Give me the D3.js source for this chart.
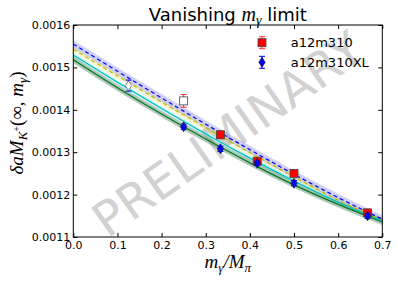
<!DOCTYPE html>
<html>
<head>
<meta charset="utf-8">
<script src="https://d3js.org/d3.v7.min.js"></script>
<style>
  body { margin: 0; background: #fff; }
  svg { display: block; }
  .axis text { font-family: "DejaVu Sans", sans-serif; font-size: 11px; fill: #000; }
  .axis line { stroke: #000; }
  .math { font-family: "Liberation Serif", serif; font-style: italic; }
</style>
</head>
<body>
<div id="chart"></div>
<script>
// fit curves, sampled at xGrid
const xGrid = [0, 0.1, 0.2, 0.3, 0.4, 0.5, 0.6, 0.7];
const fitBlue = [0.001555, 0.001491, 0.001428, 0.001366, 0.001306, 0.001248, 0.001193, 0.001142];
const fitYellow = [0.001543, 0.001480, 0.001418, 0.001358, 0.001299, 0.001242, 0.001187, 0.001140];
const fitCyan = [0.001529, 0.001465, 0.001403, 0.001343, 0.001286, 0.001232, 0.001182, 0.001138];
const fitGreen = [0.001518, 0.001452, 0.001390, 0.001331, 0.001275, 0.001223, 0.001177, 0.001136];
const bandHalf = [0.0000090, 0.0000075, 0.0000055, 0.0000075]; // blue, yellow, cyan, green

// data points
const xA = [0.25, 1 / 3, 5 / 12, 0.5, 2 / 3];
const yA = [0.001421, 0.001341, 0.001279, 0.001250, 0.001157];
const eA = [0.000015, 0.000009, 0.000006, 0.000004, 0.000004];
const openA = [true, false, false, false, false];

const xB = [0.125, 0.25, 1 / 3, 5 / 12, 0.5, 2 / 3];
const yB = [0.001457, 0.001360, 0.001308, 0.001274, 0.001227, 0.001150];
const eB = [0.000013, 0.000006, 0.000006, 0.000005, 0.000006, 0.000006];
const openB = [true, false, false, false, false, false];

const seriesNames = ["a12m310", "a12m310XL"];
const xTicks = [0, 0.1, 0.2, 0.3, 0.4, 0.5, 0.6, 0.7];
const yTicks = [0.0011, 0.0012, 0.0013, 0.0014, 0.0015, 0.0016];

const W = 398, H = 284;
const m = { left: 73.3, right: 398 - 382.3, top: 25, bottom: 284 - 237 };
const iw = W - m.left - m.right, ih = H - m.top - m.bottom;

const svg = d3.select("#chart").append("svg").attr("width", W).attr("height", H);

const x = d3.scaleLinear().domain([0, 0.7]).range([m.left, m.left + iw]);
const y = d3.scaleLinear().domain([0.0011, 0.0016]).range([m.top + ih, m.top]);

// watermark
svg.append("text")
  .attr("transform", `translate(${x(0.35)},${y(0.001343)}) rotate(-35)`)
  .attr("text-anchor", "middle")
  .attr("dominant-baseline", "central")
  .style("font-family", "DejaVu Sans, sans-serif")
  .style("font-size", "48px")
  .style("fill", "#d2d2d2")
  .text("PRELIMINARY");

const plot = svg.append("g");

const fits = [
  { v: fitBlue, c: "#0000ff", band: "#0000ff", o: 0.18, dash: "4,3", h: bandHalf[0] },
  { v: fitYellow, c: "#bfbf00", band: "#bfbf00", o: 0.16, dash: "4,3", h: bandHalf[1] },
  { v: fitCyan, c: "#00bfbf", band: "#00bfbf", o: 0.18, dash: null, h: bandHalf[2] },
  { v: fitGreen, c: "#007a20", band: "#2f6f4a", o: 0.38, dash: null, h: bandHalf[3] }
];

const area = d3.area()
  .x((d, i) => x(xGrid[i]))
  .y0(d => y(d.lo)).y1(d => y(d.hi))
  .curve(d3.curveMonotoneX);
const line = d3.line()
  .x((d, i) => x(xGrid[i])).y(d => y(d))
  .curve(d3.curveMonotoneX);

fits.forEach(f => {
  plot.append("path")
    .datum(f.v.map(v => ({ lo: v - f.h, hi: v + f.h })))
    .attr("d", area)
    .attr("fill", f.band).attr("fill-opacity", f.o);
});
fits.slice().reverse().forEach(f => {
  plot.append("path")
    .datum(f.v)
    .attr("d", line)
    .attr("fill", "none")
    .attr("stroke", f.c)
    .attr("stroke-width", f.dash ? 1.2 : 1.3)
    .attr("stroke-dasharray", f.dash);
});

function errbar(g, cx, cy, lo, hi, color) {
  g.append("line").attr("x1", cx).attr("x2", cx).attr("y1", lo).attr("y2", hi)
    .attr("stroke", color).attr("stroke-width", 1);
  [lo, hi].forEach(v => g.append("line")
    .attr("x1", cx - 3).attr("x2", cx + 3).attr("y1", v).attr("y2", v)
    .attr("stroke", color).attr("stroke-width", 1));
}
function square(g, cx, cy, fill) {
  g.append("rect").attr("x", cx - 4).attr("y", cy - 4).attr("width", 8).attr("height", 8)
    .attr("fill", fill).attr("stroke", "#444").attr("stroke-width", 0.8);
}
function diamond(g, cx, cy, fill) {
  g.append("path")
    .attr("d", `M${cx},${cy - 5}L${cx + 3.2},${cy}L${cx},${cy + 5}L${cx - 3.2},${cy}Z`)
    .attr("fill", fill).attr("stroke", fill === "#fff" ? "#555" : "#222").attr("stroke-width", 0.7);
}

const pts = svg.append("g");
xA.forEach((v, i) => {
  errbar(pts, x(v), y(yA[i]), y(yA[i] - eA[i]), y(yA[i] + eA[i]), "#ff3030");
  square(pts, x(v), y(yA[i]), openA[i] ? "#fff" : "#ff0000");
});
xB.forEach((v, i) => {
  errbar(pts, x(v), y(yB[i]), y(yB[i] - eB[i]), y(yB[i] + eB[i]), "#0000ff");
  diamond(pts, x(v), y(yB[i]), openB[i] ? "#fff" : "#0000ff");
});

// axes: ticks inward on all sides
const ax = svg.append("g").attr("class", "axis");
ax.append("g").attr("transform", `translate(0,${m.top + ih})`)
  .call(d3.axisBottom(x).tickValues(xTicks).tickFormat(d3.format(".1f")).tickSizeInner(-4).tickSizeOuter(0).tickPadding(4))
  .call(g => g.select(".domain").remove());
ax.append("g").attr("transform", `translate(0,${m.top})`)
  .call(d3.axisTop(x).tickValues(xTicks).tickFormat("").tickSizeInner(-4).tickSizeOuter(0))
  .call(g => g.select(".domain").remove());
ax.append("g").attr("transform", `translate(${m.left},0)`)
  .call(d3.axisLeft(y).tickValues(yTicks).tickFormat(d3.format(".4f")).tickSizeInner(-4).tickSizeOuter(0).tickPadding(3))
  .call(g => g.select(".domain").remove());
ax.append("g").attr("transform", `translate(${m.left + iw},0)`)
  .call(d3.axisRight(y).tickValues(yTicks).tickFormat("").tickSizeInner(-4).tickSizeOuter(0))
  .call(g => g.select(".domain").remove());
svg.append("rect").attr("x", m.left).attr("y", m.top).attr("width", iw).attr("height", ih)
  .attr("fill", "none").attr("stroke", "#000").attr("stroke-width", 1);

// legend
const lg = svg.append("g");
[[seriesNames[0], "sq"], [seriesNames[1], "di"]].forEach((d, i) => {
  const ly = 42.7 + i * 19.6;
  errbar(lg, 262, ly, ly - 6, ly + 6, d[1] === "sq" ? "#ff3030" : "#0000ff");
  if (d[1] === "sq") square(lg, 262, ly, "#ff0000"); else diamond(lg, 262, ly, "#0000ff");
  lg.append("text").attr("x", 290.7).attr("y", ly + 4.7)
    .style("font-family", "DejaVu Sans, sans-serif").style("font-size", "13px")
    .text(d[0]);
});

// title
const title = svg.append("text").attr("x", m.left + iw / 2).attr("y", 20.5)
  .attr("text-anchor", "middle")
  .style("font-family", "DejaVu Sans, sans-serif").style("font-size", "18px");
title.append("tspan").text("Vanishing ");
title.append("tspan").attr("class", "math").style("font-size", "20px").text("m");
title.append("tspan").attr("class", "math").attr("dy", 4).style("font-size", "14px").text("γ");
title.append("tspan").attr("dy", -4).text(" limit");

// x label
const xl = svg.append("text").attr("x", m.left + iw / 2).attr("y", 268)
  .attr("text-anchor", "middle").style("font-size", "19px").attr("class", "math");
xl.append("tspan").text("m");
xl.append("tspan").attr("dy", 4).style("font-size", "13px").text("γ");
xl.append("tspan").attr("dy", -4).text("/M");
xl.append("tspan").attr("dy", 4).style("font-size", "13px").text("π");

// y label
const yl = svg.append("text")
  .attr("transform", `translate(23,${m.top + ih / 2 - 8}) rotate(-90)`)
  .attr("text-anchor", "middle").style("font-size", "19px").attr("class", "math");
yl.append("tspan").text("δaM");
yl.append("tspan").attr("dy", 4).style("font-size", "13px").text("K");
yl.append("tspan").attr("dy", -7).style("font-size", "10px").style("font-style", "normal").text("+");
yl.append("tspan").attr("dy", 3).style("font-style", "normal").text("(∞, ");
yl.append("tspan").text("m");
yl.append("tspan").attr("dy", 4).style("font-size", "13px").text("γ");
yl.append("tspan").attr("dy", -4).style("font-style", "normal").text(")");
</script>
</body>
</html>
